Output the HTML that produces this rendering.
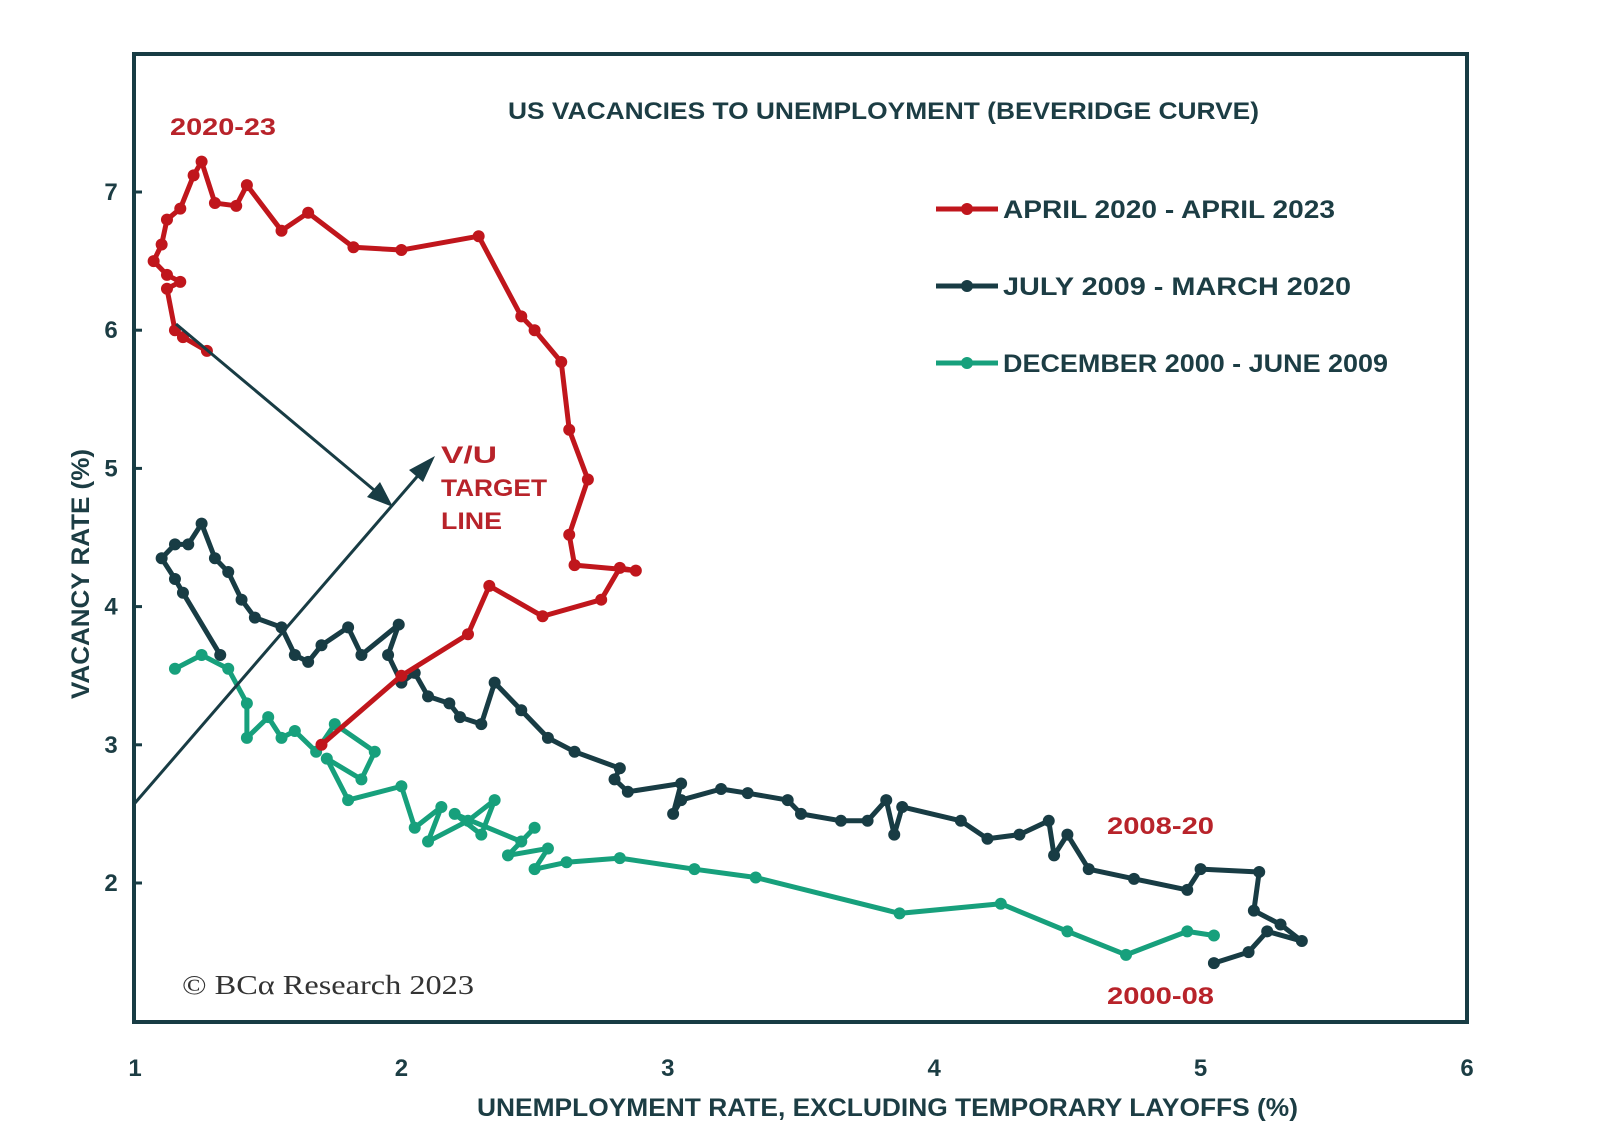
<!DOCTYPE html>
<html><head><meta charset="utf-8"><style>
body{margin:0;background:#fff;}
svg{display:block;font-family:"Liberation Sans",sans-serif;}
</style></head><body>
<svg id="chart" width="1600" height="1128" viewBox="0 0 1600 1128">
<rect x="134" y="54" width="1333" height="968" fill="#fff" stroke="#183c44" stroke-width="4"/>
<text x="508" y="119" textLength="751" lengthAdjust="spacingAndGlyphs" font-size="24" font-weight="bold" fill="#1c3d44">US VACANCIES TO UNEMPLOYMENT (BEVERIDGE CURVE)</text>
<g id="series"></g>
<g id="ticks"></g>
<line x1="135" y1="803" x2="428" y2="464" stroke="#183c44" stroke-width="3"/>
<polygon points="435,456 409,470 423,482" fill="#183c44"/>
<line x1="176" y1="324" x2="386" y2="500" stroke="#183c44" stroke-width="3"/>
<polygon points="393,507 367,497 380,482" fill="#183c44"/>
<g font-weight="bold" fill="#b8232a" font-size="24">
<text x="170" y="135" textLength="106" lengthAdjust="spacingAndGlyphs">2020-23</text>
<text x="441" y="463" textLength="56" lengthAdjust="spacingAndGlyphs">V/U</text>
<text x="441" y="496" textLength="106" lengthAdjust="spacingAndGlyphs">TARGET</text>
<text x="441" y="529" textLength="61" lengthAdjust="spacingAndGlyphs">LINE</text>
<text x="1107" y="834" textLength="107" lengthAdjust="spacingAndGlyphs">2008-20</text>
<text x="1107" y="1004" textLength="107" lengthAdjust="spacingAndGlyphs">2000-08</text>
</g>
<text x="182" y="994" textLength="292" lengthAdjust="spacingAndGlyphs" font-family="Liberation Serif,serif" font-size="27" fill="#333">© BCα Research 2023</text>
<g font-size="25" font-weight="bold" fill="#1c3d44">
<line x1="936" y1="209" x2="998" y2="209" stroke="#c0161c" stroke-width="5"/><circle cx="967" cy="209" r="6" fill="#c0161c"/>
<text x="1003" y="218" textLength="332" lengthAdjust="spacingAndGlyphs">APRIL 2020  -  APRIL 2023</text>
<line x1="936" y1="286" x2="998" y2="286" stroke="#183c44" stroke-width="5"/><circle cx="967" cy="286" r="6" fill="#183c44"/>
<text x="1003" y="295" textLength="348" lengthAdjust="spacingAndGlyphs">JULY 2009  -  MARCH 2020</text>
<line x1="936" y1="363" x2="998" y2="363" stroke="#17a07c" stroke-width="5"/><circle cx="967" cy="363" r="6" fill="#17a07c"/>
<text x="1003" y="372" textLength="385" lengthAdjust="spacingAndGlyphs">DECEMBER 2000  - JUNE 2009</text>
<text x="477" y="1116" textLength="821" lengthAdjust="spacingAndGlyphs">UNEMPLOYMENT RATE, EXCLUDING TEMPORARY LAYOFFS (%)</text>
<text transform="translate(89,699) rotate(-90)" textLength="250" lengthAdjust="spacingAndGlyphs">VACANCY RATE (%)</text>
</g>
</svg>
<script>
const xTicks=[1,2,3,4,5,6];
const yTicks=[2,3,4,5,6,7];
const greenX=[1.15,1.25,1.35,1.42,1.42,1.5,1.55,1.6,1.68,1.75,1.9,1.85,1.72,1.8,2.0,2.05,2.15,2.1,2.25,2.35,2.3,2.2,2.45,2.5,2.4,2.55,2.5,2.62,2.82,3.1,3.33,3.87,4.25,4.5,4.72,4.95,5.05];
const greenY=[3.55,3.65,3.55,3.3,3.05,3.2,3.05,3.1,2.95,3.15,2.95,2.75,2.9,2.6,2.7,2.4,2.55,2.3,2.45,2.6,2.35,2.5,2.3,2.4,2.2,2.25,2.1,2.15,2.18,2.1,2.04,1.78,1.85,1.65,1.48,1.65,1.62];
const darkX=[5.05,5.18,5.25,5.38,5.3,5.2,5.22,5.0,4.95,4.75,4.58,4.5,4.45,4.43,4.32,4.2,4.1,3.88,3.85,3.82,3.75,3.65,3.5,3.45,3.3,3.2,3.05,3.02,3.05,2.85,2.8,2.82,2.65,2.55,2.45,2.35,2.3,2.22,2.18,2.1,2.05,2.0,1.95,1.99,1.85,1.8,1.7,1.65,1.6,1.55,1.45,1.4,1.35,1.3,1.25,1.2,1.15,1.1,1.15,1.18,1.32];
const darkY=[1.42,1.5,1.65,1.58,1.7,1.8,2.08,2.1,1.95,2.03,2.1,2.35,2.2,2.45,2.35,2.32,2.45,2.55,2.35,2.6,2.45,2.45,2.5,2.6,2.65,2.68,2.6,2.5,2.72,2.66,2.75,2.83,2.95,3.05,3.25,3.45,3.15,3.2,3.3,3.35,3.52,3.45,3.65,3.87,3.65,3.85,3.72,3.6,3.65,3.85,3.92,4.05,4.25,4.35,4.6,4.45,4.45,4.35,4.2,4.1,3.65];
const redX=[1.7,2.0,2.25,2.33,2.53,2.75,2.82,2.88,2.65,2.63,2.7,2.63,2.6,2.5,2.45,2.29,2.0,1.82,1.65,1.55,1.42,1.38,1.3,1.25,1.22,1.17,1.12,1.1,1.07,1.12,1.17,1.12,1.15,1.18,1.27];
const redY=[3.0,3.5,3.8,4.15,3.93,4.05,4.28,4.26,4.3,4.52,4.92,5.28,5.77,6.0,6.1,6.68,6.58,6.6,6.85,6.72,7.05,6.9,6.92,7.22,7.12,6.88,6.8,6.62,6.5,6.4,6.35,6.3,6.0,5.95,5.85];
const NS='http://www.w3.org/2000/svg';
function xs(v){return 135+(v-1)*266.4;}
function ys(v){return 883-(v-2)*138.2;}
const g=document.getElementById('series');
function draw(X,Y,color,name){
  const p=document.createElementNS(NS,'polyline');
  p.setAttribute('points',X.map((x,i)=>xs(x)+','+ys(Y[i])).join(' '));
  p.setAttribute('fill','none');p.setAttribute('stroke',color);p.setAttribute('stroke-width','5');p.setAttribute('stroke-linejoin','round');
  
  
  g.appendChild(p);
  X.forEach((x,i)=>{const c=document.createElementNS(NS,'circle');
    c.setAttribute('cx',xs(x));c.setAttribute('cy',ys(Y[i]));c.setAttribute('r','6');c.setAttribute('fill',color);
    
    
    g.appendChild(c);});
}
draw(greenX,greenY,'#17a07c','series-2000-2009');
draw(darkX,darkY,'#183c44','series-2009-2020');
draw(redX,redY,'#c0161c','series-2020-2023');
const t=document.getElementById('ticks');
xTicks.forEach(v=>{const e=document.createElementNS(NS,'text');
  e.setAttribute('x',xs(v));e.setAttribute('y',1076);e.setAttribute('text-anchor','middle');
  e.setAttribute('font-size','24');e.setAttribute('font-weight','bold');e.setAttribute('fill','#1c3d44');
  e.textContent=v;
  
  
  t.appendChild(e);});
yTicks.forEach(v=>{const e=document.createElementNS(NS,'text');
  e.setAttribute('x',111);e.setAttribute('y',ys(v)+8);e.setAttribute('text-anchor','middle');
  e.setAttribute('font-size','24');e.setAttribute('font-weight','bold');e.setAttribute('fill','#1c3d44');
  e.textContent=v;
  
  
  t.appendChild(e);
  const l=document.createElementNS(NS,'line');
  l.setAttribute('x1',134);l.setAttribute('x2',142);l.setAttribute('y1',ys(v));l.setAttribute('y2',ys(v));
  l.setAttribute('stroke','#183c44');l.setAttribute('stroke-width','3');
  
  
  t.appendChild(l);});
</script>
</body></html>
